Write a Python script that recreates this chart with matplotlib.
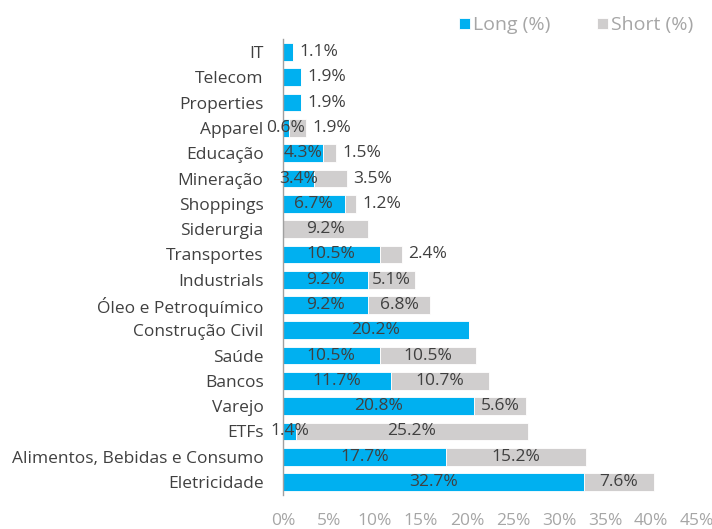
import numpy as np
import matplotlib
matplotlib.use("Agg")
import matplotlib.pyplot as plt
import matplotlib.ticker as ticker

plt.rcParams['font.family'] = ['Open Sans', 'DejaVu Sans']

setores = ['IT', 'Telecom', 'Properties', 'Apparel', 'Educação', 'Mineração',
           'Shoppings', 'Siderurgia', 'Transportes', 'Industrials',
           'Óleo e Petroquímico', 'Construção Civil', 'Saúde', 'Bancos',
           'Varejo', 'ETFs', 'Alimentos, Bebidas e Consumo', 'Eletricidade']
long_pct = [1.1, 1.9, 1.9, 0.6, 4.3, 3.4, 6.7, 0.0, 10.5, 9.2,
            9.2, 20.2, 10.5, 11.7, 20.8, 1.4, 17.7, 32.7]
short_pct = [0.0, 0.0, 0.0, 1.9, 1.5, 3.5, 1.2, 9.2, 2.4, 5.1,
             6.8, 0.0, 10.5, 10.7, 5.6, 25.2, 15.2, 7.6]

azul = '#00B0F0'
cinza = '#D0CECE'
txt = '#404040'
claro = '#A6A6A6'

fig = plt.figure(figsize=(7.12, 5.29), dpi=100)
ax = fig.add_axes([0.3975, 0.065, 0.5815, 0.8605])

y = np.arange(len(setores))
L = np.array(long_pct)
S = np.array(short_pct)
ax.barh(y, L, height=0.7, color=azul, edgecolor='white', linewidth=0.6, label='Long (%)')
ax.barh(y, S, left=L, height=0.7, color=cinza, edgecolor='white', linewidth=0.6, label='Short (%)')

fs = 12.5
# rótulos: dentro do segmento, ou à direita quando o segmento é pequeno
for i in range(len(setores)):
    l, s = L[i], S[i]
    if l > 0:
        if s == 0 and l < 3:
            ax.text(l + 0.7, i, f'{l:.1f}%', ha='left', va='center', fontsize=fs, color=txt)
        else:
            ax.text(l / 2, i, f'{l:.1f}%', ha='center', va='center', fontsize=fs, color=txt)
    if s > 0:
        if s < 4:
            ax.text(l + s + 0.7, i, f'{s:.1f}%', ha='left', va='center', fontsize=fs, color=txt)
        else:
            ax.text(l + s / 2, i, f'{s:.1f}%', ha='center', va='center', fontsize=fs, color=txt)

ax.set_yticks(y)
ax.set_yticklabels(setores, fontsize=fs, color=txt)
ax.set_ylim(len(setores) - 0.5, -0.5)
ax.set_xlim(0, 45)
ax.xaxis.set_major_locator(ticker.MultipleLocator(5))
ax.xaxis.set_major_formatter(ticker.FuncFormatter(lambda v, p: f'{v:.0f}%'))
ax.tick_params(axis='x', length=0, labelsize=fs, labelcolor=claro, pad=13)
ax.tick_params(axis='y', length=0, pad=14)

for sp in ['top', 'right', 'bottom']:
    ax.spines[sp].set_visible(False)
ax.spines['left'].set_color('#A0A0A0')
ax.spines['left'].set_linewidth(1.0)

leg = fig.legend(ncol=2, loc='center right', bbox_to_anchor=(0.984, 0.952), frameon=False,
                 fontsize=14, handlelength=0.55, handleheight=0.55, handletextpad=0.15,
                 columnspacing=2.4, borderaxespad=0)
for t in leg.get_texts():
    t.set_color(claro)

fig.savefig('out.png', dpi=100)
